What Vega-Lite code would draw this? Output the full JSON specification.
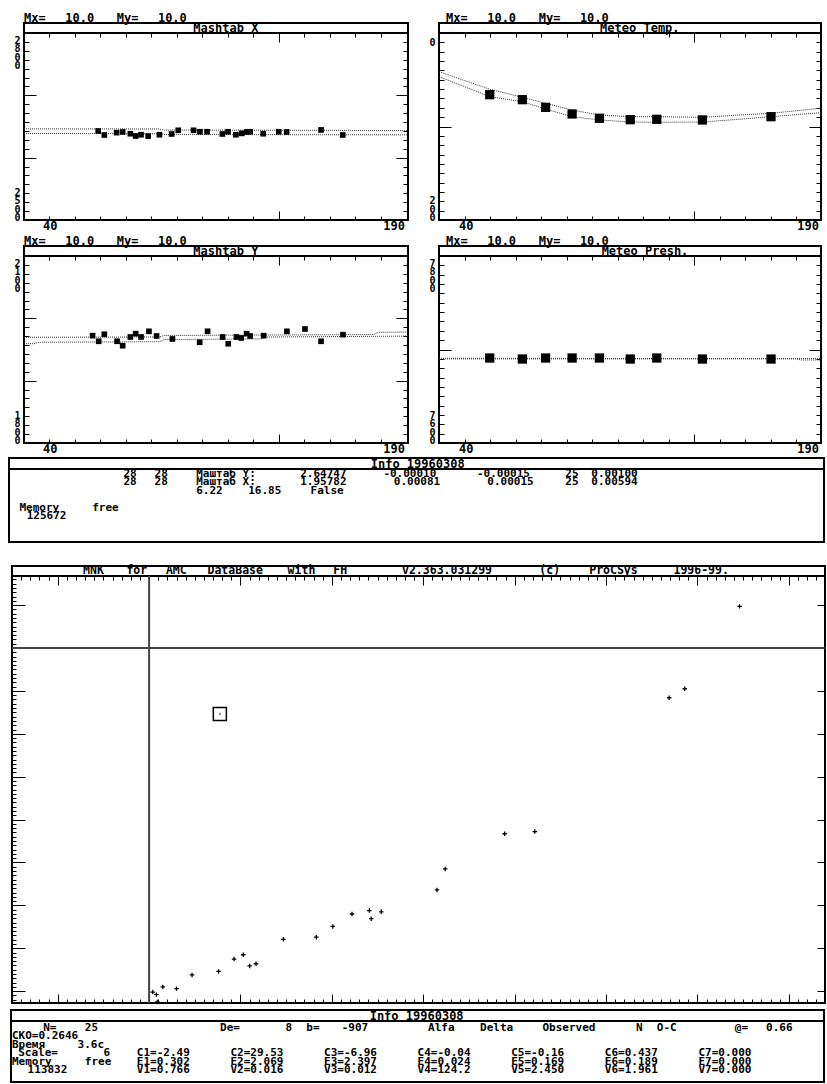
{
"$schema":"https://vega.github.io/schema/vega-lite/v6.json",
"background":"white",
"padding":0,
"spacing":0,
"config":{
 "view":{"stroke":"#000","strokeWidth":2},
 "axis":{"domain":false,"labels":false,"grid":false,"ticks":true,"tickColor":"#000","tickWidth":1,"minExtent":0,"maxExtent":0},
 "text":{"font":"DejaVu Sans Mono","fontWeight":"bold","fontSize":12,"color":"#000"},
 "concat":{"spacing":0}
},
"vconcat":[
 {"width":1,"height":10,"view":{"stroke":null},"data":{"values":[{}]},"mark":{"type":"point","opacity":0,"size":0},"encoding":{}},
 {"hconcat":[
  {"width":13,"height":1,"view":{"stroke":null},"data":{"values":[{}]},"mark":{"type":"point","opacity":0,"size":0},"encoding":{}},
  {"vconcat":[
   {"width":384,"height":13,"view":{"stroke":null},
    "data":{"values":[{"c":0,"t":"Mx="},{"c":4,"t":"10.0"},{"c":9,"t":"My="},{"c":13,"t":"10.0"}]},
    "mark":{"type":"text","align":"left","baseline":"middle","dy":1.5},
    "encoding":{"x":{"field":"c","type":"quantitative","scale":{"domain":[0,37.28],"nice":false,"zero":false},"axis":null},"text":{"field":"t","type":"nominal"}}},
   {"width":384,"height":10,"data":{"values":[{"c":19.6,"t":"Mashtab X"}]},"mark":{"type":"text","align":"center","baseline":"middle"},
    "encoding":{"x":{"field":"c","type":"quantitative","scale":{"domain":[0,37.28],"nice":false,"zero":false},"axis":null},"text":{"field":"t","type":"nominal"}}},
   {"width":384,"height":187,
    "encoding":{
     "x":{"field":"x","type":"quantitative","scale":{"domain":[40,190.6],"nice":false,"zero":false},"axis":null},
     "y":{"field":"y","type":"quantitative","scale":{"domain":[2500,2800],"nice":false,"zero":false},"axis":null}},
    "layer":[
     {"data":{"values":[{"curve":"a","x":40,"y":2646.2},{"curve":"a","x":93,"y":2646},{"curve":"a","x":95,"y":2644.3},{"curve":"a","x":190.6,"y":2643.6},{"curve":"b","x":40,"y":2638.8},{"curve":"b","x":93,"y":2638.4},{"curve":"b","x":95,"y":2637.1},{"curve":"b","x":190.6,"y":2636.6}]},
      "mark":{"type":"line","color":"#333","strokeWidth":1,"strokeDash":[1,1]},
      "encoding":{
       "x":{"field":"x","type":"quantitative","scale":{"domain":[40,190.6],"nice":false,"zero":false},"axis":{"orient":"bottom","title":null,"values":[50,60,70,80,90,100,110,120,130,140,150,160,170,180],"tickSize":{"condition":{"test":"datum.value === 140","value":-9},"value":-4}}},
       "y":{"field":"y","type":"quantitative","scale":{"domain":[2500,2800],"nice":false,"zero":false},"axis":{"orient":"left","title":null,"values":[2514.2857,2528.5714,2542.8571,2557.1429,2571.4286,2585.7143,2600,2614.2857,2628.5714,2642.8571,2657.1429,2671.4286,2685.7143,2700,2714.2857,2728.5714,2742.8571,2757.1429,2771.4286,2785.7143],"tickSize":{"condition":{"test":"datum.value === 2600 || datum.value === 2700","value":-12},"value":-5}}},
       "detail":{"field":"curve","type":"nominal"}}},
     {"data":{"values":[{"x":69.1,"y":2642.8},{"x":71.5,"y":2636.4},{"x":76.3,"y":2640.1},{"x":78.7,"y":2641.2},{"x":81.7,"y":2638.4},{"x":83.8,"y":2634.7},{"x":85.9,"y":2636.8},{"x":88.7,"y":2634.7},{"x":93.1,"y":2636.8},{"x":97.9,"y":2638},{"x":100.5,"y":2643.9},{"x":106.5,"y":2643.9},{"x":109,"y":2641.6},{"x":111.8,"y":2641.6},{"x":117.8,"y":2638},{"x":120,"y":2641.6},{"x":123.1,"y":2636.8},{"x":125.4,"y":2639},{"x":127.3,"y":2641.2},{"x":128.7,"y":2641.6},{"x":133.8,"y":2638.4},{"x":139.9,"y":2641.6},{"x":143,"y":2641.2},{"x":156.5,"y":2644.5},{"x":165,"y":2636.4}]},
      "mark":{"type":"square","color":"#000","size":32,"opacity":1},
      "encoding":{
       "x":{"field":"x","type":"quantitative","scale":{"domain":[40,190.6],"nice":false,"zero":false},"axis":{"orient":"top","title":null,"values":[50,60,70,80,90,100,110,120,130,140,150,160,170,180],"tickSize":{"condition":{"test":"datum.value === 140","value":-9},"value":-4}}},
       "y":{"field":"y","type":"quantitative","scale":{"domain":[2500,2800],"nice":false,"zero":false},"axis":{"orient":"right","title":null,"values":[2514.2857,2528.5714,2542.8571,2557.1429,2571.4286,2585.7143,2600,2614.2857,2628.5714,2642.8571,2657.1429,2671.4286,2685.7143,2700,2714.2857,2728.5714,2742.8571,2757.1429,2771.4286,2785.7143],"tickSize":{"condition":{"test":"datum.value === 2600 || datum.value === 2700","value":-12},"value":-5}}}}},
     {"data":{"values":[{"x":40,"y":2800,"t":"2\n8\n0\n0"}]},"mark":{"type":"text","align":"center","baseline":"top","dx":-6.5,"dy":3,"fontSize":10,"lineHeight":8.3,"lineBreak":"\n"},"encoding":{"text":{"field":"t","type":"nominal"}}},
     {"data":{"values":[{"x":40,"y":2500,"t":"2\n5\n0\n0"}]},"mark":{"type":"text","align":"center","baseline":"bottom","dx":-6.5,"dy":-21.9,"fontSize":10,"lineHeight":8.3,"lineBreak":"\n"},"encoding":{"text":{"field":"t","type":"nominal"}}},
     {"data":{"values":[{"x":40,"y":2500,"t":"40"}]},"mark":{"type":"text","align":"left","baseline":"middle","dx":19,"dy":6},"encoding":{"text":{"field":"t","type":"nominal"}}},
     {"data":{"values":[{"x":190.6,"y":2500,"t":"190"}]},"mark":{"type":"text","align":"right","baseline":"middle","dx":-3,"dy":6},"encoding":{"text":{"field":"t","type":"nominal"}}}
    ],
    "resolve":{"axis":{"x":"independent","y":"independent"}}},
   {"width":1,"height":13,"view":{"stroke":null},"data":{"values":[{}]},"mark":{"type":"point","opacity":0,"size":0},"encoding":{}},
   {"width":384,"height":13,"view":{"stroke":null},
    "data":{"values":[{"c":0,"t":"Mx="},{"c":4,"t":"10.0"},{"c":9,"t":"My="},{"c":13,"t":"10.0"}]},
    "mark":{"type":"text","align":"left","baseline":"middle","dy":1.5},
    "encoding":{"x":{"field":"c","type":"quantitative","scale":{"domain":[0,37.28],"nice":false,"zero":false},"axis":null},"text":{"field":"t","type":"nominal"}}},
   {"width":384,"height":10,"data":{"values":[{"c":19.6,"t":"Mashtab Y"}]},"mark":{"type":"text","align":"center","baseline":"middle"},
    "encoding":{"x":{"field":"c","type":"quantitative","scale":{"domain":[0,37.28],"nice":false,"zero":false},"axis":null},"text":{"field":"t","type":"nominal"}}},
   {"width":384,"height":187,
    "encoding":{
     "x":{"field":"x","type":"quantitative","scale":{"domain":[40,190.6],"nice":false,"zero":false},"axis":null},
     "y":{"field":"y","type":"quantitative","scale":{"domain":[1800,2100],"nice":false,"zero":false},"axis":null}},
    "layer":[
     {"data":{"values":[{"curve":"a","x":40,"y":1969.6},{"curve":"a","x":93,"y":1970},{"curve":"a","x":95,"y":1972.5},{"curve":"a","x":177,"y":1974},{"curve":"a","x":179,"y":1977.5},{"curve":"a","x":190.6,"y":1978},{"curve":"b","x":40,"y":1959.3},{"curve":"b","x":44,"y":1959.3},{"curve":"b","x":46,"y":1961.6},{"curve":"b","x":93,"y":1962.5},{"curve":"b","x":95,"y":1966},{"curve":"b","x":133,"y":1967},{"curve":"b","x":135,"y":1970},{"curve":"b","x":190.6,"y":1971.5}]},
      "mark":{"type":"line","color":"#333","strokeWidth":1,"strokeDash":[1,1]},
      "encoding":{
       "x":{"field":"x","type":"quantitative","scale":{"domain":[40,190.6],"nice":false,"zero":false},"axis":{"orient":"bottom","title":null,"values":[50,60,70,80,90,100,110,120,130,140,150,160,170,180],"tickSize":{"condition":{"test":"datum.value === 140","value":-9},"value":-4}}},
       "y":{"field":"y","type":"quantitative","scale":{"domain":[1800,2100],"nice":false,"zero":false},"axis":{"orient":"left","title":null,"values":[1814.2857,1828.5714,1842.8571,1857.1429,1871.4286,1885.7143,1900,1914.2857,1928.5714,1942.8571,1957.1429,1971.4286,1985.7143,2000,2014.2857,2028.5714,2042.8571,2057.1429,2071.4286,2085.7143],"tickSize":{"condition":{"test":"datum.value === 1900 || datum.value === 2000","value":-12},"value":-5}}},
       "detail":{"field":"curve","type":"nominal"}}},
     {"data":{"values":[{"x":66.9,"y":1972.2},{"x":69.3,"y":1963.2},{"x":71.5,"y":1974.4},{"x":76.5,"y":1963.2},{"x":78.7,"y":1956.1},{"x":81.7,"y":1970.1},{"x":83.8,"y":1975.4},{"x":85.9,"y":1970.1},{"x":89,"y":1979.2},{"x":92,"y":1971.7},{"x":98.2,"y":1966.9},{"x":108.9,"y":1961.6},{"x":112,"y":1979.2},{"x":117.9,"y":1970.1},{"x":120.1,"y":1959.3},{"x":123.3,"y":1970.1},{"x":125.2,"y":1968.5},{"x":127.3,"y":1975.4},{"x":128.7,"y":1971.7},{"x":134,"y":1972.2},{"x":143.1,"y":1979.2},{"x":150.2,"y":1982.9},{"x":156.5,"y":1963.2},{"x":165.1,"y":1973.8}]},
      "mark":{"type":"square","color":"#000","size":32,"opacity":1},
      "encoding":{
       "x":{"field":"x","type":"quantitative","scale":{"domain":[40,190.6],"nice":false,"zero":false},"axis":{"orient":"top","title":null,"values":[50,60,70,80,90,100,110,120,130,140,150,160,170,180],"tickSize":{"condition":{"test":"datum.value === 140","value":-9},"value":-4}}},
       "y":{"field":"y","type":"quantitative","scale":{"domain":[1800,2100],"nice":false,"zero":false},"axis":{"orient":"right","title":null,"values":[1814.2857,1828.5714,1842.8571,1857.1429,1871.4286,1885.7143,1900,1914.2857,1928.5714,1942.8571,1957.1429,1971.4286,1985.7143,2000,2014.2857,2028.5714,2042.8571,2057.1429,2071.4286,2085.7143],"tickSize":{"condition":{"test":"datum.value === 1900 || datum.value === 2000","value":-12},"value":-5}}}}},
     {"data":{"values":[{"x":40,"y":2100,"t":"2\n1\n0\n0"}]},"mark":{"type":"text","align":"center","baseline":"top","dx":-6.5,"dy":3,"fontSize":10,"lineHeight":8.3,"lineBreak":"\n"},"encoding":{"text":{"field":"t","type":"nominal"}}},
     {"data":{"values":[{"x":40,"y":1800,"t":"1\n8\n0\n0"}]},"mark":{"type":"text","align":"center","baseline":"bottom","dx":-6.5,"dy":-21.9,"fontSize":10,"lineHeight":8.3,"lineBreak":"\n"},"encoding":{"text":{"field":"t","type":"nominal"}}},
     {"data":{"values":[{"x":40,"y":1800,"t":"40"}]},"mark":{"type":"text","align":"left","baseline":"middle","dx":19,"dy":6},"encoding":{"text":{"field":"t","type":"nominal"}}},
     {"data":{"values":[{"x":190.6,"y":1800,"t":"190"}]},"mark":{"type":"text","align":"right","baseline":"middle","dx":-3,"dy":6},"encoding":{"text":{"field":"t","type":"nominal"}}}
    ],
    "resolve":{"axis":{"x":"independent","y":"independent"}}},
   {"width":1,"height":13,"view":{"stroke":null},"data":{"values":[{}]},"mark":{"type":"point","opacity":0,"size":0},"encoding":{}}
  ],"spacing":0,"bounds":"flush"},
  {"width":17,"height":1,"view":{"stroke":null},"data":{"values":[{}]},"mark":{"type":"point","opacity":0,"size":0},"encoding":{}},
  {"vconcat":[
   {"width":382,"height":13,"view":{"stroke":null},
    "data":{"values":[{"c":0,"t":"Mx="},{"c":4,"t":"10.0"},{"c":9,"t":"My="},{"c":13,"t":"10.0"}]},
    "mark":{"type":"text","align":"left","baseline":"middle","dy":1.5,"dx":7},
    "encoding":{"x":{"field":"c","type":"quantitative","scale":{"domain":[0,37.09],"nice":false,"zero":false},"axis":null},"text":{"field":"t","type":"nominal"}}},
   {"width":382,"height":10,"data":{"values":[{"c":19.5,"t":"Meteo Temp."}]},"mark":{"type":"text","align":"center","baseline":"middle"},
    "encoding":{"x":{"field":"c","type":"quantitative","scale":{"domain":[0,37.09],"nice":false,"zero":false},"axis":null},"text":{"field":"t","type":"nominal"}}},
   {"width":382,"height":187,
    "encoding":{
     "x":{"field":"x","type":"quantitative","scale":{"domain":[40,189.8],"nice":false,"zero":false},"axis":null},
     "y":{"field":"y","type":"quantitative","scale":{"domain":[0,200],"nice":false,"zero":false,"reverse":true},"axis":null}},
    "layer":[
     {"data":{"values":[{"curve":"a","x":40,"y":41.4},{"curve":"a","x":60,"y":60.2},{"curve":"a","x":72.7,"y":68.8},{"curve":"a","x":81.8,"y":75.2},{"curve":"a","x":92.2,"y":82.4},{"curve":"a","x":102.9,"y":87.7},{"curve":"a","x":115,"y":89.5},{"curve":"a","x":125.4,"y":89.5},{"curve":"a","x":143.3,"y":90.2},{"curve":"a","x":157.5,"y":87.7},{"curve":"a","x":170.2,"y":85.9},{"curve":"a","x":189.8,"y":80.5},{"curve":"b","x":40,"y":46.7},{"curve":"b","x":60,"y":68.1},{"curve":"b","x":72.7,"y":73.5},{"curve":"b","x":81.8,"y":81.3},{"curve":"b","x":92.2,"y":89.5},{"curve":"b","x":102.9,"y":93},{"curve":"b","x":115,"y":95.2},{"curve":"b","x":125.4,"y":95.5},{"curve":"b","x":143.3,"y":95.2},{"curve":"b","x":157.5,"y":92.3},{"curve":"b","x":170.2,"y":89.5},{"curve":"b","x":189.8,"y":85.2}]},
      "mark":{"type":"line","color":"#333","strokeWidth":1,"strokeDash":[1,1]},
      "encoding":{
       "x":{"field":"x","type":"quantitative","scale":{"domain":[40,189.8],"nice":false,"zero":false},"axis":{"orient":"bottom","title":null,"values":[50,60,70,80,90,100,110,120,130,140,150,160,170,180],"tickSize":{"condition":{"test":"datum.value === 140","value":-9},"value":-4}}},
       "y":{"field":"y","type":"quantitative","scale":{"domain":[0,200],"nice":false,"zero":false,"reverse":true},"axis":{"orient":"left","title":null,"values":[10,20,30,40,50,60,70,80,90,100,110,120,130,140,150,160,170,180,190],"tickSize":{"condition":{"test":"datum.value === 100","value":-12},"value":-5}}},
       "detail":{"field":"curve","type":"nominal"}}},
     {"data":{"values":[{"x":59.9,"y":66},{"x":72.7,"y":71.3},{"x":81.8,"y":79.5},{"x":92.2,"y":86.6},{"x":102.9,"y":91.2},{"x":115,"y":92.7},{"x":125.4,"y":92.3},{"x":143.3,"y":93},{"x":170.2,"y":89.5}]},
      "mark":{"type":"square","color":"#000","size":86,"opacity":1},
      "encoding":{
       "x":{"field":"x","type":"quantitative","scale":{"domain":[40,189.8],"nice":false,"zero":false},"axis":{"orient":"top","title":null,"values":[50,60,70,80,90,100,110,120,130,140,150,160,170,180],"tickSize":{"condition":{"test":"datum.value === 140","value":-9},"value":-4}}},
       "y":{"field":"y","type":"quantitative","scale":{"domain":[0,200],"nice":false,"zero":false,"reverse":true},"axis":{"orient":"right","title":null,"values":[10,20,30,40,50,60,70,80,90,100,110,120,130,140,150,160,170,180,190],"tickSize":{"condition":{"test":"datum.value === 100","value":-12},"value":-5}}}}},
     {"data":{"values":[{"x":40,"y":0,"t":"0"}]},"mark":{"type":"text","align":"center","baseline":"top","dx":-6.5,"dy":5,"fontSize":10,"lineHeight":8.3,"lineBreak":"\n"},"encoding":{"text":{"field":"t","type":"nominal"}}},
     {"data":{"values":[{"x":40,"y":200,"t":"2\n0\n0"}]},"mark":{"type":"text","align":"center","baseline":"bottom","dx":-6.5,"dy":-13.6,"fontSize":10,"lineHeight":8.3,"lineBreak":"\n"},"encoding":{"text":{"field":"t","type":"nominal"}}},
     {"data":{"values":[{"x":40,"y":200,"t":"40"}]},"mark":{"type":"text","align":"left","baseline":"middle","dx":20,"dy":6},"encoding":{"text":{"field":"t","type":"nominal"}}},
     {"data":{"values":[{"x":189.8,"y":200,"t":"190"}]},"mark":{"type":"text","align":"right","baseline":"middle","dx":-2,"dy":6},"encoding":{"text":{"field":"t","type":"nominal"}}}
    ],
    "resolve":{"axis":{"x":"independent","y":"independent"}}},
   {"width":1,"height":13,"view":{"stroke":null},"data":{"values":[{}]},"mark":{"type":"point","opacity":0,"size":0},"encoding":{}},
   {"width":382,"height":13,"view":{"stroke":null},
    "data":{"values":[{"c":0,"t":"Mx="},{"c":4,"t":"10.0"},{"c":9,"t":"My="},{"c":13,"t":"10.0"}]},
    "mark":{"type":"text","align":"left","baseline":"middle","dy":1.5,"dx":7},
    "encoding":{"x":{"field":"c","type":"quantitative","scale":{"domain":[0,37.09],"nice":false,"zero":false},"axis":null},"text":{"field":"t","type":"nominal"}}},
   {"width":382,"height":10,"data":{"values":[{"c":20,"t":"Meteo Presh."}]},"mark":{"type":"text","align":"center","baseline":"middle"},
    "encoding":{"x":{"field":"c","type":"quantitative","scale":{"domain":[0,37.09],"nice":false,"zero":false},"axis":null},"text":{"field":"t","type":"nominal"}}},
   {"width":382,"height":187,
    "encoding":{
     "x":{"field":"x","type":"quantitative","scale":{"domain":[40,189.8],"nice":false,"zero":false},"axis":null},
     "y":{"field":"y","type":"quantitative","scale":{"domain":[7600,7800],"nice":false,"zero":false},"axis":null}},
    "layer":[
     {"data":{"values":[{"curve":"a","x":40,"y":7690.6},{"curve":"a","x":189.8,"y":7690.3},{"curve":"b","x":40,"y":7690},{"curve":"b","x":180,"y":7690},{"curve":"b","x":182,"y":7688.8},{"curve":"b","x":189.8,"y":7688.8}]},
      "mark":{"type":"line","color":"#333","strokeWidth":1,"strokeDash":[1,1]},
      "encoding":{
       "x":{"field":"x","type":"quantitative","scale":{"domain":[40,189.8],"nice":false,"zero":false},"axis":{"orient":"bottom","title":null,"values":[50,60,70,80,90,100,110,120,130,140,150,160,170,180],"tickSize":{"condition":{"test":"datum.value === 140","value":-9},"value":-4}}},
       "y":{"field":"y","type":"quantitative","scale":{"domain":[7600,7800],"nice":false,"zero":false},"axis":{"orient":"left","title":null,"values":[7610,7620,7630,7640,7650,7660,7670,7680,7690,7700,7710,7720,7730,7740,7750,7760,7770,7780,7790],"tickSize":{"condition":{"test":"datum.value === 7700","value":-12},"value":-5}}},
       "detail":{"field":"curve","type":"nominal"}}},
     {"data":{"values":[{"x":59.9,"y":7690.9},{"x":72.7,"y":7689.8},{"x":81.8,"y":7690.9},{"x":92.2,"y":7690.9},{"x":102.9,"y":7690.9},{"x":115,"y":7689.8},{"x":125.4,"y":7690.9},{"x":143.3,"y":7689.8},{"x":170.2,"y":7689.8}]},
      "mark":{"type":"square","color":"#000","size":86,"opacity":1},
      "encoding":{
       "x":{"field":"x","type":"quantitative","scale":{"domain":[40,189.8],"nice":false,"zero":false},"axis":{"orient":"top","title":null,"values":[50,60,70,80,90,100,110,120,130,140,150,160,170,180],"tickSize":{"condition":{"test":"datum.value === 140","value":-9},"value":-4}}},
       "y":{"field":"y","type":"quantitative","scale":{"domain":[7600,7800],"nice":false,"zero":false},"axis":{"orient":"right","title":null,"values":[7610,7620,7630,7640,7650,7660,7670,7680,7690,7700,7710,7720,7730,7740,7750,7760,7770,7780,7790],"tickSize":{"condition":{"test":"datum.value === 7700","value":-12},"value":-5}}}}},
     {"data":{"values":[{"x":40,"y":7800,"t":"7\n8\n0\n0"}]},"mark":{"type":"text","align":"center","baseline":"top","dx":-6.5,"dy":3,"fontSize":10,"lineHeight":8.3,"lineBreak":"\n"},"encoding":{"text":{"field":"t","type":"nominal"}}},
     {"data":{"values":[{"x":40,"y":7600,"t":"7\n6\n0\n0"}]},"mark":{"type":"text","align":"center","baseline":"bottom","dx":-6.5,"dy":-21.9,"fontSize":10,"lineHeight":8.3,"lineBreak":"\n"},"encoding":{"text":{"field":"t","type":"nominal"}}},
     {"data":{"values":[{"x":40,"y":7600,"t":"40"}]},"mark":{"type":"text","align":"left","baseline":"middle","dx":20,"dy":6},"encoding":{"text":{"field":"t","type":"nominal"}}},
     {"data":{"values":[{"x":189.8,"y":7600,"t":"190"}]},"mark":{"type":"text","align":"right","baseline":"middle","dx":-2,"dy":6},"encoding":{"text":{"field":"t","type":"nominal"}}}
    ],
    "resolve":{"axis":{"x":"independent","y":"independent"}}},
   {"width":1,"height":13,"view":{"stroke":null},"data":{"values":[{}]},"mark":{"type":"point","opacity":0,"size":0},"encoding":{}}
  ],"spacing":0,"bounds":"flush"}
 ],"spacing":0},
 {"hconcat":[
  {"width":8,"height":1,"view":{"stroke":null},"data":{"values":[{}]},"mark":{"type":"point","opacity":0,"size":0},"encoding":{}},
  {"vconcat":[
   {"width":815,"height":11,"data":{"values":[{"c":39.3,"t":"Info 19960308"}]},"mark":{"type":"text","align":"center","baseline":"middle"},
    "encoding":{"x":{"field":"c","type":"quantitative","scale":{"domain":[0,78.37],"nice":false,"zero":false},"axis":null},"text":{"field":"t","type":"nominal"}}},
   {"width":815,"height":73,
    "data":{"values":[
     {"l":0,"c":11,"t":"28"},{"l":0,"c":14,"t":"28"},{"l":0,"c":18,"t":"Маштаб Y:"},{"l":0,"c":28,"t":"2.64747"},{"l":0,"c":36,"t":"-0.00010"},{"l":0,"c":45,"t":"-0.00015"},{"l":0,"c":53.5,"t":"25"},{"l":0,"c":56,"t":"0.00100"},
     {"l":1,"c":11,"t":"28"},{"l":1,"c":14,"t":"28"},{"l":1,"c":18,"t":"Маштаб X:"},{"l":1,"c":28,"t":"1.95782"},{"l":1,"c":37,"t":"0.00081"},{"l":1,"c":46,"t":"0.00015"},{"l":1,"c":53.5,"t":"25"},{"l":1,"c":56,"t":"0.00594"},
     {"l":2,"c":18,"t":"6.22"},{"l":2,"c":23,"t":"16.85"},{"l":2,"c":29,"t":"False"},
     {"l":4,"c":1,"t":"Memory"},{"l":4,"c":8,"t":"free"},
     {"l":5,"c":1.7,"t":"125672"}
    ]},
    "mark":{"type":"text","align":"left","baseline":"middle","fontSize":11},
    "encoding":{
     "x":{"field":"c","type":"quantitative","scale":{"domain":[0,78.37],"nice":false,"zero":false},"axis":null},
     "y":{"field":"l","type":"quantitative","scale":{"domain":[-0.588,8.0],"nice":false,"zero":false,"reverse":true},"axis":null},
     "text":{"field":"t","type":"nominal"}}}
  ],"spacing":0,"bounds":"flush"}
 ],"spacing":0},
 {"width":1,"height":21,"view":{"stroke":null},"data":{"values":[{}]},"mark":{"type":"point","opacity":0,"size":0},"encoding":{}},
 {"hconcat":[
  {"width":10,"height":1,"view":{"stroke":null},"data":{"values":[{}]},"mark":{"type":"point","opacity":0,"size":0},"encoding":{}},
  {"vconcat":[
   {"width":813,"height":10,
    "data":{"values":[{"c":6.83,"t":"MNK"},{"c":11,"t":"for"},{"c":14.8,"t":"AMC"},{"c":18.8,"t":"DataBase"},{"c":26.5,"t":"with"},{"c":30.9,"t":"FH"},{"c":37.5,"t":"v2.363.031299"},{"c":50.7,"t":"(c)"},{"c":55.5,"t":"ProCSys"},{"c":63.6,"t":"1996-99."}]},
    "mark":{"type":"text","align":"left","baseline":"middle","fontSize":11.5},
    "encoding":{
     "x":{"field":"c","type":"quantitative","scale":{"domain":[0,78.17],"nice":false,"zero":false},"axis":null},
     "text":{"field":"t","type":"nominal"}}},
   {"width":813,"height":427,
    "layer":[
     {"data":{"values":[{"x":0}]},"mark":{"type":"rule","color":"#444","strokeWidth":2},
      "encoding":{"x":{"field":"x","type":"quantitative","scale":{"domain":[-1.5,7.395],"nice":false,"zero":false},"axis":{"orient":"bottom","title":null,"tickCount":90,"tickSize":{"condition":{"test":"abs(datum.value - round(datum.value)) < 0.01","value":-9},"value":-4}}}}},
     {"data":{"values":[{"y":0}]},"mark":{"type":"rule","color":"#444","strokeWidth":2},
      "encoding":{"y":{"field":"y","type":"quantitative","scale":{"domain":[-8.275,1.678],"nice":false,"zero":false},"axis":{"orient":"left","title":null,"tickCount":100,"tickSize":{"condition":{"test":"abs(datum.value - round(datum.value)) < 0.01","value":-13},"value":-4}}}}},
     {"data":{"values":[{"x":0.04,"y":-8.02},{"x":0.08,"y":-8.08},{"x":0.09,"y":-8.25},{"x":0.15,"y":-7.9},{"x":0.3,"y":-7.94},{"x":0.47,"y":-7.62},{"x":0.76,"y":-7.54},{"x":0.93,"y":-7.25},{"x":1.03,"y":-7.15},{"x":1.1,"y":-7.41},{"x":1.17,"y":-7.36},{"x":1.47,"y":-6.79},{"x":1.83,"y":-6.74},{"x":2.01,"y":-6.49},{"x":2.22,"y":-6.2},{"x":2.41,"y":-6.12},{"x":2.43,"y":-6.31},{"x":2.54,"y":-6.15},{"x":3.15,"y":-5.64},{"x":3.24,"y":-5.15},{"x":3.89,"y":-4.33},{"x":4.22,"y":-4.28},{"x":5.69,"y":-1.16},{"x":5.86,"y":-0.95},{"x":6.46,"y":0.97}]},
      "mark":{"type":"point","shape":"M-1,0L1,0M0,-1L0,1","filled":false,"color":"#000","strokeWidth":1.3,"size":20,"opacity":1},
      "encoding":{
       "x":{"field":"x","type":"quantitative","scale":{"domain":[-1.5,7.395],"nice":false,"zero":false},"axis":{"orient":"top","title":null,"tickCount":90,"tickSize":{"condition":{"test":"abs(datum.value - round(datum.value)) < 0.01","value":-9},"value":-4}}},
       "y":{"field":"y","type":"quantitative","scale":{"domain":[-8.275,1.678],"nice":false,"zero":false},"axis":{"orient":"right","title":null,"values":[-8,-7,-6,-5,-4,-3,-2,-1,0,1],"tickSize":-8}}}},
     {"data":{"values":[{"x":0.774,"y":-1.538}]},
      "mark":{"type":"point","shape":"square","filled":false,"color":"#000","strokeWidth":1.5,"size":170,"opacity":1},
      "encoding":{
       "x":{"field":"x","type":"quantitative","scale":{"domain":[-1.5,7.395],"nice":false,"zero":false},"axis":null},
       "y":{"field":"y","type":"quantitative","scale":{"domain":[-8.275,1.678],"nice":false,"zero":false},"axis":null}}},
     {"data":{"values":[{"x":0.774,"y":-1.538}]},
      "mark":{"type":"point","shape":"square","filled":true,"color":"#666","size":3,"opacity":1},
      "encoding":{
       "x":{"field":"x","type":"quantitative","scale":{"domain":[-1.5,7.395],"nice":false,"zero":false},"axis":null},
       "y":{"field":"y","type":"quantitative","scale":{"domain":[-8.275,1.678],"nice":false,"zero":false},"axis":null}}}
    ],
    "resolve":{"axis":{"x":"independent","y":"independent"}}}
  ],"spacing":0,"bounds":"flush"}
 ],"spacing":0},
 {"hconcat":[
  {"width":10,"height":1,"view":{"stroke":null},"data":{"values":[{}]},"mark":{"type":"point","opacity":0,"size":0},"encoding":{}},
  {"vconcat":[
   {"width":813,"height":11,"data":{"values":[{"c":39,"t":"Info 19960308"}]},"mark":{"type":"text","align":"center","baseline":"middle"},
    "encoding":{"x":{"field":"c","type":"quantitative","scale":{"domain":[0,78.17],"nice":false,"zero":false},"axis":null},"text":{"field":"t","type":"nominal"}}},
   {"width":813,"height":61,
    "data":{"values":[
     {"l":0,"c":3,"t":"N="},{"l":0,"c":7,"t":"25"},{"l":0,"c":20,"t":"De="},{"l":0,"c":26.3,"t":"8"},{"l":0,"c":28.3,"t":"b="},{"l":0,"c":31.7,"t":"-907"},{"l":0,"c":40,"t":"Alfa"},{"l":0,"c":45,"t":"Delta"},{"l":0,"c":51,"t":"Observed"},{"l":0,"c":60,"t":"N"},{"l":0,"c":62,"t":"O-C"},{"l":0,"c":69.5,"t":"@="},{"l":0,"c":72.5,"t":"0.66"},
     {"l":1,"c":0,"t":"СКО=0.2646"},
     {"l":2,"c":0,"t":"Время"},{"l":2,"c":6.3,"t":"3.6с"},
     {"l":3,"c":0.6,"t":"Scale="},{"l":3,"c":8.8,"t":"6"},{"l":3,"c":12,"t":"C1=-2.49"},{"l":3,"c":21,"t":"C2=29.53"},{"l":3,"c":30,"t":"C3=-6.96"},{"l":3,"c":39,"t":"C4=-0.04"},{"l":3,"c":48,"t":"C5=-0.16"},{"l":3,"c":57,"t":"C6=0.437"},{"l":3,"c":66,"t":"C7=0.000"},
     {"l":4,"c":0,"t":"Memory"},{"l":4,"c":7,"t":"free"},{"l":4,"c":12,"t":"E1=0.302"},{"l":4,"c":21,"t":"E2=2.069"},{"l":4,"c":30,"t":"E3=2.397"},{"l":4,"c":39,"t":"E4=0.024"},{"l":4,"c":48,"t":"E5=0.169"},{"l":4,"c":57,"t":"E6=0.189"},{"l":4,"c":66,"t":"E7=0.000"},
     {"l":5,"c":1.5,"t":"113832"},{"l":5,"c":12,"t":"V1=0.766"},{"l":5,"c":21,"t":"V2=0.016"},{"l":5,"c":30,"t":"V3=0.012"},{"l":5,"c":39,"t":"V4=124.2"},{"l":5,"c":48,"t":"V5=2.450"},{"l":5,"c":57,"t":"V6=1.961"},{"l":5,"c":66,"t":"V7=0.000"}
    ]},
    "mark":{"type":"text","align":"left","baseline":"middle","dx":1,"fontSize":11},
    "encoding":{
     "x":{"field":"c","type":"quantitative","scale":{"domain":[0,78.17],"nice":false,"zero":false},"axis":null},
     "y":{"field":"l","type":"quantitative","scale":{"domain":[-0.765,6.41],"nice":false,"zero":false,"reverse":true},"axis":null},
     "text":{"field":"t","type":"nominal"}}}
  ],"spacing":0,"bounds":"flush"}
 ],"spacing":0}
]
}
